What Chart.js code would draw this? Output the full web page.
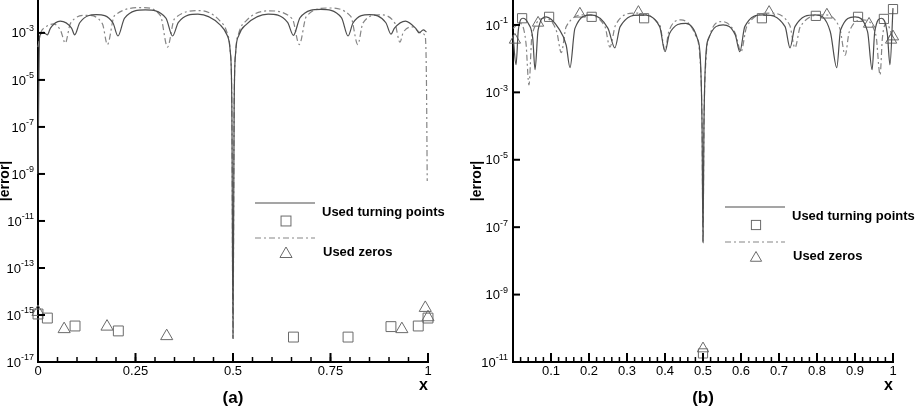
<!DOCTYPE html>
<html lang="en">
<head>
<meta charset="UTF-8">
<title>|error| against x</title>
<script src="https://cdn.jsdelivr.net/npm/chart.js@4.4.0/dist/chart.umd.min.js"></script>
<style>
  body { margin: 0; background: #fff; }
  .panel { position: absolute; top: 0; height: 416px; }
  #panelA { left: 0; width: 460px; }
  #panelB { left: 467px; width: 450px; }
</style>
</head>
<body>
<div class="panel" id="panelA"><canvas id="chartA"></canvas></div>
<div class="panel" id="panelB"><canvas id="chartB"></canvas></div>
<script>
// ---- panel (a) ----
const xTicksA = [0, 0.25, 0.5, 0.75, 1];
const xLabelsA = ['0', '0.25', '0.5', '0.75', '1'];
const yTicksA = [1e-17, 1e-15, 1e-13, 1e-11, 1e-9, 1e-7, 1e-5, 1e-3];
const yExpA = ['-17', '-15', '-13', '-11', '-9', '-7', '-5', '-3'];

// error of the turning-point interpolant (solid)
const solidA = [
  [0, 1e-9], [0.004, 7e-4], [0.014, 1.05e-3], [0.024, 8.3e-4], [0.032, 1.6e-3],
  [0.057, 3.2e-3], [0.086, 1.6e-3], [0.094, 8.3e-4], [0.107, 2.7e-3], [0.15, 6.0e-3],
  [0.192, 2.7e-3], [0.205, 7.4e-4], [0.222, 4.3e-3], [0.275, 9.5e-3], [0.328, 4.3e-3],
  [0.345, 7.4e-4], [0.36, 2.8e-3], [0.41, 6.3e-3], [0.467, 2.2e-3], [0.485, 7.9e-4],
  [0.493, 1.6e-4], [0.497, 1e-6], [0.5, 1e-16], [0.503, 1e-6], [0.507, 1.6e-4],
  [0.515, 7.9e-4], [0.533, 2.2e-3], [0.59, 6.3e-3], [0.64, 2.8e-3], [0.655, 7.9e-4],
  [0.672, 4.5e-3], [0.725, 1.0e-2], [0.778, 4.5e-3], [0.795, 7.4e-4], [0.808, 2.7e-3],
  [0.85, 6.0e-3], [0.892, 2.7e-3], [0.905, 8.9e-4], [0.914, 1.6e-3], [0.942, 3.2e-3],
  [0.968, 1.6e-3], [0.977, 1.0e-3], [0.988, 1.35e-3], [0.996, 1.1e-3]
];
// error of the zeros interpolant (dash-dot)
const dashA = [
  [0, 2.5e-4], [0.006, 9e-4], [0.02, 1.8e-3], [0.04, 2.4e-3], [0.058, 1.26e-3],
  [0.07, 3.7e-4], [0.083, 2.5e-3], [0.125, 5.6e-3], [0.165, 2.5e-3], [0.178, 3.2e-4],
  [0.196, 5.4e-3], [0.27, 1.2e-2], [0.314, 5.4e-3], [0.332, 2.5e-4], [0.35, 4e-3],
  [0.415, 8.9e-3], [0.467, 3.2e-3], [0.485, 1e-3], [0.493, 1.6e-4], [0.497, 1e-6],
  [0.5, 1e-16], [0.503, 1e-6], [0.507, 1.6e-4], [0.515, 1e-3], [0.533, 3.2e-3],
  [0.59, 8.7e-3], [0.652, 4e-3], [0.67, 3.2e-4], [0.688, 5e-3], [0.745, 1.15e-2],
  [0.802, 5e-3], [0.82, 3.2e-4], [0.833, 2.6e-3], [0.875, 5.9e-3], [0.915, 2.6e-3],
  [0.928, 4e-4], [0.936, 1e-3], [0.96, 1.8e-3], [0.982, 1e-3], [0.993, 7e-4],
  [0.996, 1e-5], [0.998, 5e-10]
];
const squaresA = [
  [0, 1.1e-15], [0.024, 7.4e-16], [0.095, 3.4e-16], [0.206, 2.1e-16], [0.655, 1.15e-16],
  [0.795, 1.15e-16], [0.905, 3.2e-16], [0.975, 3.4e-16], [1, 7.4e-16]
];
const trianglesA = [
  [0, 1.35e-15], [0.067, 2.5e-16], [0.177, 3.2e-16], [0.33, 1.26e-16], [0.933, 2.5e-16],
  [0.993, 2e-15], [1, 8e-16]
];

// ---- panel (b) ----
const xTicksB = [0.1, 0.2, 0.3, 0.4, 0.5, 0.6, 0.7, 0.8, 0.9, 1];
const xLabelsB = ['0.1', '0.2', '0.3', '0.4', '0.5', '0.6', '0.7', '0.8', '0.9', '1'];
const yTicksB = [1e-11, 1e-9, 1e-7, 1e-5, 1e-3, 1e-1];
const yExpB = ['-11', '-9', '-7', '-5', '-3', '-1'];

const solidB = [
  [0, 5e-2], [0.008, 6.6e-3], [0.014, 7e-2], [0.026, 0.158], [0.04, 0.112],
  [0.052, 4e-2], [0.058, 4.7e-3], [0.066, 7e-2], [0.087, 0.174], [0.12, 7.9e-2],
  [0.14, 2.5e-2], [0.15, 5.4e-3], [0.163, 7.9e-2], [0.205, 0.2], [0.25, 7.9e-2],
  [0.268, 2.1e-2], [0.282, 8.9e-2], [0.337, 0.2], [0.386, 8.9e-2], [0.4, 1.6e-2],
  [0.412, 5.6e-2], [0.455, 0.112], [0.485, 4e-2], [0.493, 1e-2], [0.4975, 1e-4],
  [0.5, 3.5e-8], [0.5025, 1e-4], [0.507, 1e-2], [0.515, 4e-2], [0.553, 0.1],
  [0.585, 5e-2], [0.597, 1.6e-2], [0.61, 8.9e-2], [0.658, 0.2], [0.716, 8.9e-2],
  [0.729, 2.1e-2], [0.742, 8.9e-2], [0.795, 0.2], [0.835, 6.3e-2], [0.852, 5.4e-3],
  [0.862, 7e-2], [0.9, 0.174], [0.933, 6.3e-2], [0.945, 4.7e-3], [0.952, 6.3e-2],
  [0.97, 0.158], [0.985, 5.6e-2], [0.992, 6.6e-3], [1, 0.316]
];
const dashB = [
  [0, 7.9e-2], [0.018, 0.112], [0.034, 3e-2], [0.042, 1.66e-3], [0.05, 5e-2],
  [0.085, 0.158], [0.115, 6.3e-2], [0.127, 1.5e-2], [0.14, 8.9e-2], [0.19, 0.2],
  [0.242, 8.9e-2], [0.255, 2.2e-2], [0.27, 0.1], [0.32, 0.224], [0.386, 0.1],
  [0.4, 1.8e-2], [0.41, 6.3e-2], [0.442, 0.141], [0.48, 5e-2], [0.492, 1e-2],
  [0.4975, 1e-4], [0.5, 3.5e-8], [0.5025, 1e-4], [0.508, 1e-2], [0.518, 5e-2],
  [0.55, 0.126], [0.585, 5.6e-2], [0.6, 1.6e-2], [0.615, 8.9e-2], [0.676, 0.224],
  [0.728, 0.1], [0.742, 2.1e-2], [0.756, 8.9e-2], [0.816, 0.2], [0.86, 7.9e-2],
  [0.874, 1.26e-2], [0.885, 6.3e-2], [0.921, 0.141], [0.955, 5e-2], [0.966, 3.3e-3],
  [0.972, 4e-2], [0.983, 0.112], [1, 4e-2]
];
const squaresB = [
  [0.024, 0.158], [0.095, 0.174], [0.207, 0.174], [0.345, 0.158], [0.5, 1.8e-11],
  [0.655, 0.158], [0.797, 0.186], [0.908, 0.174], [0.976, 0.151], [1, 0.295]
];
const trianglesB = [
  [0.005, 3.6e-2], [0.066, 0.115], [0.176, 0.214], [0.33, 0.24], [0.5, 2.5e-11],
  [0.674, 0.24], [0.826, 0.2], [0.937, 0.107], [0.995, 3.6e-2], [1, 4.5e-2]
];

const legendLabels = ['Used turning points', 'Used zeros'];

const FONT = "'Liberation Sans', Arial, Helvetica, sans-serif";
const SOLID = '#4d4d4d';
const DASH = '#858585';
const MARK = '#6a6a6a';

const pts = arr => arr.map(p => ({ x: p[0], y: p[1] }));

function line(ctx, x1, y1, x2, y2) {
  ctx.beginPath(); ctx.moveTo(x1, y1); ctx.lineTo(x2, y2); ctx.stroke();
}
function square(ctx, x, y, r) {
  const s = r * Math.SQRT1_2;
  ctx.strokeRect(x - s, y - s, 2 * s, 2 * s);
}
function triangle(ctx, x, y, r) {
  const dx = r * Math.sin(Math.PI / 3), dy = r * Math.cos(Math.PI / 3);
  ctx.beginPath();
  ctx.moveTo(x, y - r); ctx.lineTo(x + dx, y + dy); ctx.lineTo(x - dx, y + dy);
  ctx.closePath(); ctx.stroke();
}

// power-of-ten tick labels, inward tick marks, legend and panel tag
function decor(s) {
  return {
    id: 'decor',
    afterDraw(chart) {
      const { ctx, chartArea: a, scales: { x, y } } = chart;
      const ds = chart.data.datasets;
      ctx.save();

      ctx.fillStyle = '#000';
      ctx.textBaseline = 'middle';
      ctx.textAlign = 'left';
      s.yTicks.forEach((v, i) => {
        const p = y.getPixelForValue(v);
        ctx.font = '13px ' + FONT;
        const wb = ctx.measureText('10').width;
        ctx.font = '9px ' + FONT;
        const we = ctx.measureText(s.yExp[i]).width;
        const x0 = a.left - s.yPad - wb - we;
        ctx.font = '13px ' + FONT;
        ctx.fillText('10', x0, p + 1);
        ctx.font = '9px ' + FONT;
        ctx.fillText(s.yExp[i], x0 + wb, p - 4);
      });

      ctx.strokeStyle = '#000';
      ctx.lineWidth = 2;
      s.yTicks.forEach(v => { const p = y.getPixelForValue(v); line(ctx, a.left, p, a.left + s.yLen, p); });
      s.xTicks.forEach(v => { const p = x.getPixelForValue(v); line(ctx, p, a.bottom, p, a.bottom - s.xLen); });
      ctx.lineWidth = 1.5;
      for (let v = s.minorStep; v < 1; v += s.minorStep) {
        const p = x.getPixelForValue(v);
        line(ctx, p, a.bottom, p, a.bottom - 5);
      }

      // legend
      const lx = s.legend.x, ly = s.legend.y;
      ctx.lineWidth = 1.2;
      ctx.strokeStyle = SOLID;
      line(ctx, lx, ly, lx + 60, ly);
      ctx.strokeStyle = DASH;
      ctx.setLineDash(ds[1].borderDash);
      line(ctx, lx, ly + 35, lx + 60, ly + 35);
      ctx.setLineDash([]);
      ctx.strokeStyle = MARK;
      ctx.lineWidth = 1;
      square(ctx, lx + 31, ly + 18, s.r);
      triangle(ctx, lx + 31, ly + 51, s.r);
      ctx.fillStyle = '#000';
      ctx.font = 'bold 13px ' + FONT;
      ctx.fillText(legendLabels[0], lx + 67, ly + 9.5);
      ctx.fillText(legendLabels[1], lx + 68, ly + 49);

      // panel tag
      ctx.font = 'bold 17px ' + FONT;
      ctx.textAlign = 'center';
      ctx.fillText(s.tag, (a.left + a.right) / 2, 398);
      ctx.restore();
    }
  };
}

function makeChart(id, o) {
  return new Chart(document.getElementById(id), {
    type: 'line',
    data: {
      datasets: [
        { label: legendLabels[0], data: pts(o.solid), borderColor: SOLID, borderWidth: 1.2,
          pointRadius: 0, cubicInterpolationMode: 'monotone', clip: false },
        { label: legendLabels[1], data: pts(o.dash), borderColor: DASH, borderWidth: 1.2,
          borderDash: [6, 3, 2, 3], pointRadius: 0, cubicInterpolationMode: 'monotone', clip: false },
        { label: legendLabels[0], data: pts(o.squares), showLine: false, pointStyle: 'rect',
          pointRadius: o.r, borderColor: MARK, borderWidth: 1, backgroundColor: 'rgba(0,0,0,0)', clip: false },
        { label: legendLabels[1], data: pts(o.triangles), showLine: false, pointStyle: 'triangle',
          pointRadius: o.r, borderColor: MARK, borderWidth: 1, backgroundColor: 'rgba(0,0,0,0)', clip: false }
      ]
    },
    options: {
      responsive: true,
      maintainAspectRatio: false,
      animation: false,
      layout: { autoPadding: false, padding: { left: 0, right: o.padRight, top: 0, bottom: 0 } },
      plugins: { legend: { display: false }, tooltip: { enabled: false } },
      scales: {
        x: {
          type: 'linear', min: 0, max: 1,
          grid: { display: false, drawTicks: false },
          border: { display: true, color: '#000', width: 2 },
          afterBuildTicks: sc => { sc.ticks = o.xTicks.map(v => ({ value: v })); },
          afterFit: sc => { sc.height = 54; sc.paddingLeft = 0; sc.paddingRight = 0; },
          ticks: { color: '#000', font: { family: FONT, size: 13 }, padding: 2,
            autoSkip: false, maxRotation: 0, callback: (v, i) => o.xLabels[i] },
          title: { display: true, text: 'x', align: 'end', color: '#000',
            font: { family: FONT, size: 16, weight: 'bold' }, padding: { top: 0, bottom: 21 } }
        },
        y: {
          type: 'logarithmic', min: o.yMin, max: o.yMax,
          grid: { display: false, drawTicks: false },
          border: { display: true, color: '#000', width: 2 },
          afterBuildTicks: sc => { sc.ticks = o.yTicks.map(v => ({ value: v })); },
          afterFit: sc => { sc.width = o.yWidth; sc.paddingTop = 0; sc.paddingBottom = 0; },
          ticks: { display: false },
          title: { display: true, text: '|error|', color: '#000',
            font: { family: FONT, size: 14, weight: 'bold' }, padding: { top: o.titlePad, bottom: 0 } }
        }
      }
    },
    plugins: [decor({ yTicks: o.yTicks, yExp: o.yExp, yPad: o.yPad, xTicks: o.xTicks, yLen: 7, xLen: 9,
      minorStep: o.minorStep, legend: o.legend, r: o.r, tag: o.tag })]
  });
}

makeChart('chartA', {
  solid: solidA, dash: dashA, squares: squaresA, triangles: trianglesA,
  xTicks: xTicksA, xLabels: xLabelsA, yTicks: yTicksA, yExp: yExpA,
  yMin: 1e-17, yMax: Math.pow(10, -1.6), yWidth: 38, yPad: 4, titlePad: -3, padRight: 32,
  minorStep: 0.05, legend: { x: 255, y: 203 }, r: 7, tag: '(a)'
});
makeChart('chartB', {
  solid: solidB, dash: dashB, squares: squaresB, triangles: trianglesB,
  xTicks: xTicksB, xLabels: xLabelsB, yTicks: yTicksB, yExp: yExpB,
  yMin: 1e-11, yMax: Math.pow(10, -0.26), yWidth: 46, yPad: 5, titlePad: 2, padRight: 24,
  minorStep: 0.02, legend: { x: 258, y: 207 }, r: 6.5, tag: '(b)'
});
</script>
</body>
</html>
